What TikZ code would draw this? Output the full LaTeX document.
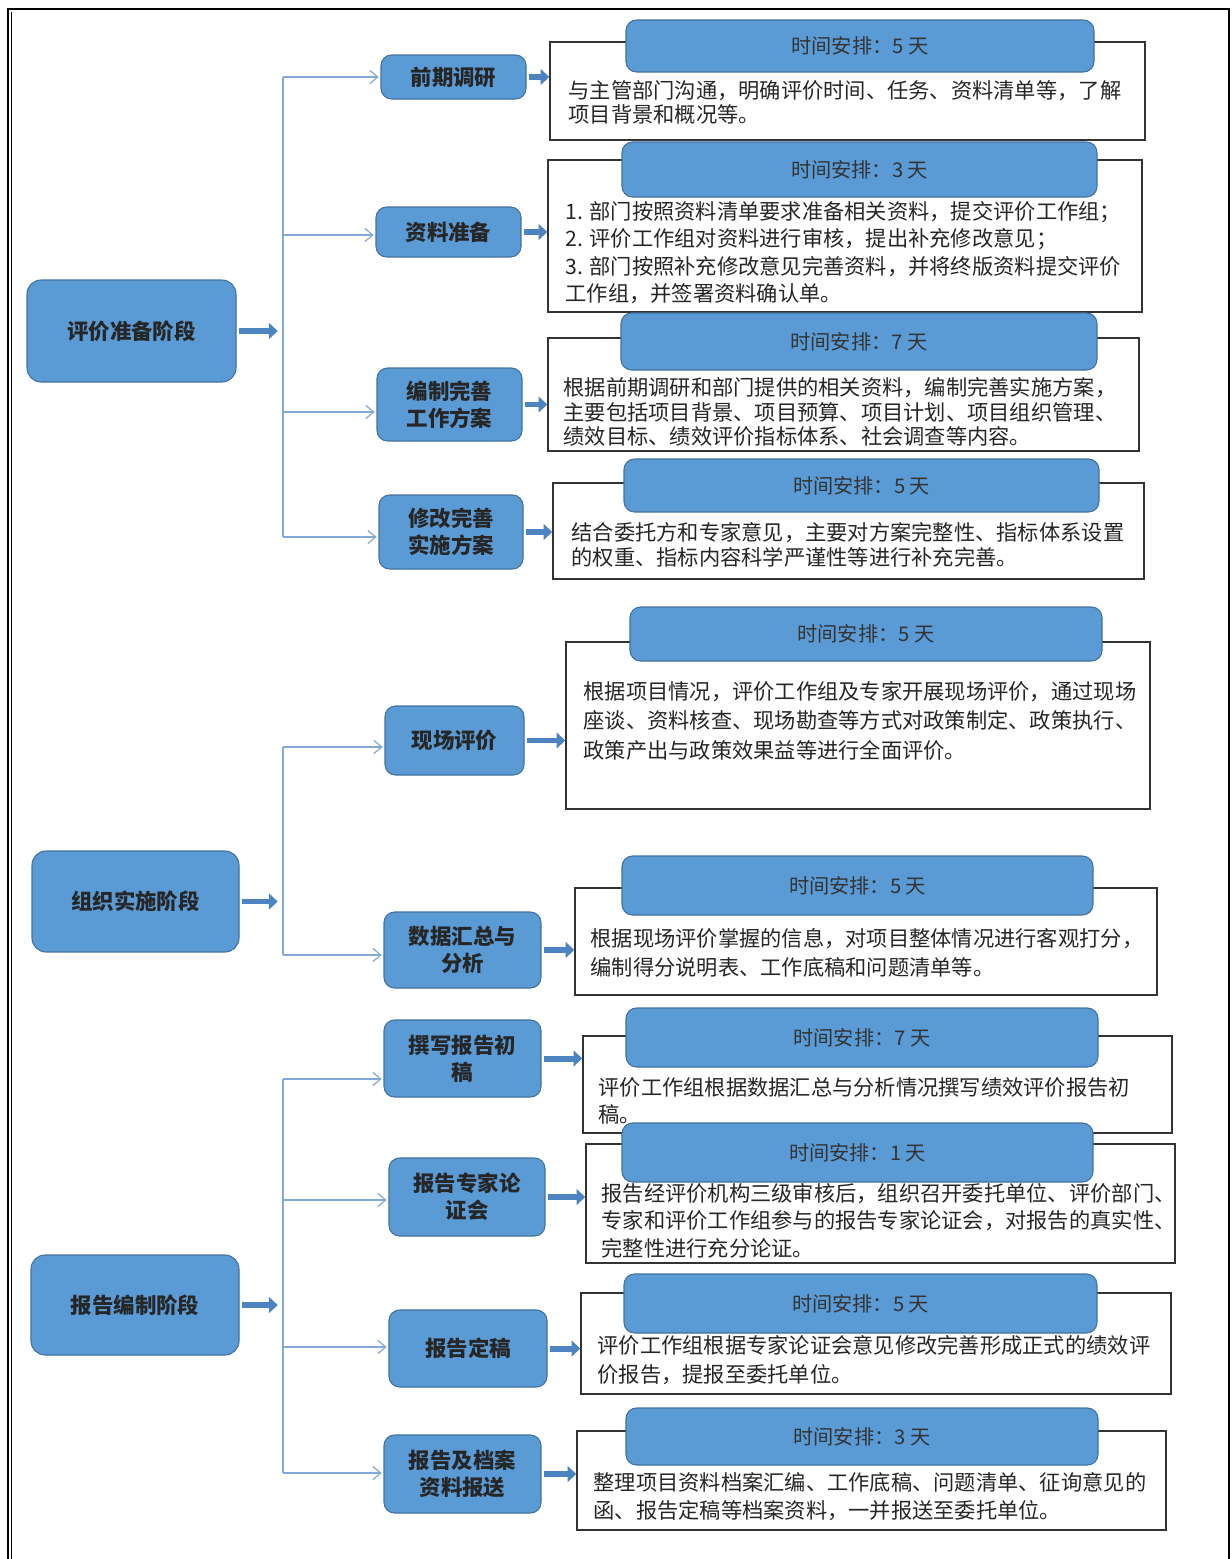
\documentclass[tikz,border=0pt]{standalone}
\usepackage{fontspec}
\newfontfamily\cjk{Noto Sans CJK SC}
\usetikzlibrary{arrows.meta,fit}
\definecolor{boxblue}{RGB}{91,155,213}
\definecolor{boxedge}{RGB}{65,113,156}
\definecolor{linkblue}{RGB}{130,170,215}
\definecolor{fatblue}{RGB}{75,132,192}

\begin{document}
\begin{tikzpicture}[x=0.02cm,y=-0.02cm,semithick]
  \tikzstyle{phasebox}=[draw=boxedge,fill=boxblue,rounded corners=8pt,inner sep=0pt]
  \tikzstyle{stepbox}=[phasebox,rounded corners=6pt]
  \tikzstyle{steptext}=[align=center,inner sep=0pt,font=\cjk\bfseries\fontsize{12.2}{15.3}\selectfont,text=black!85]
  \tikzstyle{timebox}=[draw=boxedge,fill=boxblue,rounded corners=6pt,inner sep=0pt]
  \tikzstyle{timetext}=[inner sep=0pt,font=\cjk\fontsize{11.5}{14}\selectfont,text=black!80]
  \tikzstyle{notebox}=[draw=black!80,fill=white,line width=0.8pt,inner sep=0pt]
  \tikzstyle{notetext}=[anchor=north west,inner sep=0pt,align=left,font=\cjk\fontsize{12.1}{15.6}\selectfont,text=black!85]
  \tikzstyle{tightnote}=[font=\cjk\fontsize{12.1}{13.9}\selectfont]
  \tikzstyle{widenote}=[font=\cjk\fontsize{12.1}{16.7}\selectfont]
  \tikzstyle{linkline}=[draw=linkblue,line width=0.7pt]
  \tikzstyle{linkarrow}=[linkline,-{Straight Barb[length=4.5pt,width=7.5pt]},shorten >=1pt]
  \tikzstyle{fatarrow}=[draw=fatblue,line width=3.4pt,-{Triangle[length=5pt,width=9pt]},shorten <=1.5pt]

  \useasboundingbox (0,0) rectangle (1231,1559);
  % frame
  \draw[line width=1.1pt] (8,1580) -- (8,9) -- (1229,9) -- (1229,1580);
  \draw[line width=0.5pt] (11.5,1580) -- (11.5,12);

  % phases
  \node[phasebox,fit={(27,280) (236,382)},label={[steptext]center:评价准备阶段}]  (p1) {};
  \node[phasebox,fit={(32,851) (239,952)},label={[steptext]center:组织实施阶段}]  (p2) {};
  \node[phasebox,fit={(31,1255) (239,1355)},label={[steptext]center:报告编制阶段}] (p3) {};

  % steps
  \node[stepbox,fit={(381,55) (526,99)},label={[steptext]center:前期调研}]            (s1)  {};
  \node[stepbox,fit={(376,207) (521,257)},label={[steptext]center:资料准备}]          (s2)  {};
  \node[stepbox,fit={(377,368) (522,441)},label={[steptext]center:编制完善\\工作方案}] (s3)  {};
  \node[stepbox,fit={(379,495) (523,569)},label={[steptext]center:修改完善\\实施方案}] (s4)  {};
  \node[stepbox,fit={(385,706) (524,775)},label={[steptext]center:现场评价}]          (s5)  {};
  \node[stepbox,fit={(384,912) (541,988)},label={[steptext]center:数据汇总与\\分析}]   (s6)  {};
  \node[stepbox,fit={(384,1020) (541,1097)},label={[steptext]center:撰写报告初\\稿}]   (s7)  {};
  \node[stepbox,fit={(389,1158) (545,1236)},label={[steptext]center:报告专家论\\证会}] (s8)  {};
  \node[stepbox,fit={(389,1310) (547,1387)},label={[steptext]center:报告定稿}]        (s9)  {};
  \node[stepbox,fit={(384,1435) (541,1513)},label={[steptext]center:报告及档案\\资料报送}] (s10) {};

  % notes
  \node[notebox,fit={(550,42) (1145,140)}] (d1) {};
  \node[timebox,fit={(626,20) (1094,72)},label={[timetext]center:时间安排：5 天}] (h1) {};
  \node[notetext,tightnote] (t1) at (568,80) {与主管部门沟通，明确评价时间、任务、资料清单等，了解\\项目背景和概况等。};

  \node[notebox,fit={(548,160) (1142,312)}] (d2) {};
  \node[timebox,fit={(622,142) (1097,197)},label={[timetext]center:时间安排：3 天}] (h2) {};
  \node[notetext] (t2) at (565,201) {1. 部门按照资料清单要求准备相关资料，提交评价工作组；\\2. 评价工作组对资料进行审核，提出补充修改意见；\\3. 部门按照补充修改意见完善资料，并将终版资料提交评价\\工作组，并签署资料确认单。};

  \node[notebox,fit={(548,338) (1139,451)}] (d3) {};
  \node[timebox,fit={(621,313) (1097,370)},label={[timetext]center:时间安排：7 天}] (h3) {};
  \node[notetext,tightnote] (t3) at (563,377) {根据前期调研和部门提供的相关资料，编制完善实施方案，\\主要包括项目背景、项目预算、项目计划、项目组织管理、\\绩效目标、绩效评价指标体系、社会调查等内容。};

  \node[notebox,fit={(553,483) (1144,579)}] (d4) {};
  \node[timebox,fit={(624,459) (1099,512)},label={[timetext]center:时间安排：5 天}] (h4) {};
  \node[notetext,tightnote] (t4) at (571,522) {结合委托方和专家意见，主要对方案完整性、指标体系设置\\的权重、指标内容科学严谨性等进行补充完善。};

  \node[notebox,fit={(566,642) (1150,809)}] (d5) {};
  \node[timebox,fit={(630,607) (1102,661)},label={[timetext]center:时间安排：5 天}] (h5) {};
  \node[notetext,widenote] (t5) at (583,681) {根据项目情况，评价工作组及专家开展现场评价，通过现场\\座谈、资料核查、现场勘查等方式对政策制定、政策执行、\\政策产出与政策效果益等进行全面评价。};

  \node[notebox,fit={(575,888) (1157,995)}] (d6) {};
  \node[timebox,fit={(622,856) (1093,915)},label={[timetext]center:时间安排：5 天}] (h6) {};
  \node[notetext,widenote] (t6) at (590,928) {根据现场评价掌握的信息，对项目整体情况进行客观打分，\\编制得分说明表、工作底稿和问题清单等。};

  \node[notebox,fit={(583,1036) (1172,1133)}] (d7) {};
  \node[timebox,fit={(626,1008) (1098,1067)},label={[timetext]center:时间安排：7 天}] (h7) {};
  \node[notetext] (t7) at (598,1077) {评价工作组根据数据汇总与分析情况撰写绩效评价报告初\\稿。};

  \node[notebox,fit={(586,1144) (1175,1263)}] (d8) {};
  \node[timebox,fit={(622,1123) (1093,1182)},label={[timetext]center:时间安排：1 天}] (h8) {};
  \node[notetext] (t8) at (601,1183) {报告经评价机构三级审核后，组织召开委托单位、评价部门、\\专家和评价工作组参与的报告专家论证会，对报告的真实性、\\完整性进行充分论证。};

  \node[notebox,fit={(581,1293) (1171,1394)}] (d9) {};
  \node[timebox,fit={(624,1274) (1097,1333)},label={[timetext]center:时间安排：5 天}] (h9) {};
  \node[notetext,widenote] (t9) at (597,1335) {评价工作组根据专家论证会意见修改完善形成正式的绩效评\\价报告，提报至委托单位。};

  \node[notebox,fit={(577,1431) (1166,1530)}] (d10) {};
  \node[timebox,fit={(626,1408) (1098,1465)},label={[timetext]center:时间安排：3 天}] (h10) {};
  \node[notetext] (t10) at (593,1472) {整理项目资料档案汇编、工作底稿、问题清单、征询意见的\\函、报告定稿等档案资料，一并报送至委托单位。};

  % branch points
  \coordinate (v1a) at (283,77);
  \coordinate (v1b) at (283,235);
  \coordinate (v1c) at (283,412);
  \coordinate (v1d) at (283,537);
  \coordinate (v2a) at (283,747);
  \coordinate (v2b) at (283,955);
  \coordinate (v3a) at (283,1079);
  \coordinate (v3b) at (283,1200);
  \coordinate (v3c) at (283,1347);
  \coordinate (v3d) at (283,1473);

  \draw[linkline] (v1a) -- (v1d);
  \draw[linkline] (v2a) -- (v2b);
  \draw[linkline] (v3a) -- (v3d);

  \path (v1a) edge[linkarrow] (v1a -| s1.west)
        (v1b) edge[linkarrow] (v1b -| s2.west)
        (v1c) edge[linkarrow] (v1c -| s3.west)
        (v1d) edge[linkarrow] (v1d -| s4.west)
        (v2a) edge[linkarrow] (v2a -| s5.west)
        (v2b) edge[linkarrow] (v2b -| s6.west)
        (v3a) edge[linkarrow] (v3a -| s7.west)
        (v3b) edge[linkarrow] (v3b -| s8.west)
        (v3c) edge[linkarrow] (v3c -| s9.west)
        (v3d) edge[linkarrow] (v3d -| s10.west);

  \path (p1) edge[fatarrow,shorten >=3pt] (p1 -| v1a)
        (p2) edge[fatarrow,shorten >=3pt] (p2 -| v2a)
        (p3) edge[fatarrow,shorten >=3pt] (p3 -| v3a);

  \path (s1) edge[fatarrow] (s1 -| d1.west)
        (s2) edge[fatarrow] (s2 -| d2.west)
        (s3) edge[fatarrow] (s3 -| d3.west)
        (s4) edge[fatarrow] (s4 -| d4.west)
        (s5) edge[fatarrow] (s5 -| d5.west)
        (s6) edge[fatarrow] (s6 -| d6.west)
        (s7) edge[fatarrow] (s7 -| d7.west)
        (s8) edge[fatarrow] (s8 -| d8.west)
        (s9) edge[fatarrow] (s9 -| d9.west)
        (s10) edge[fatarrow] (s10 -| d10.west);
\end{tikzpicture}
\end{document}
